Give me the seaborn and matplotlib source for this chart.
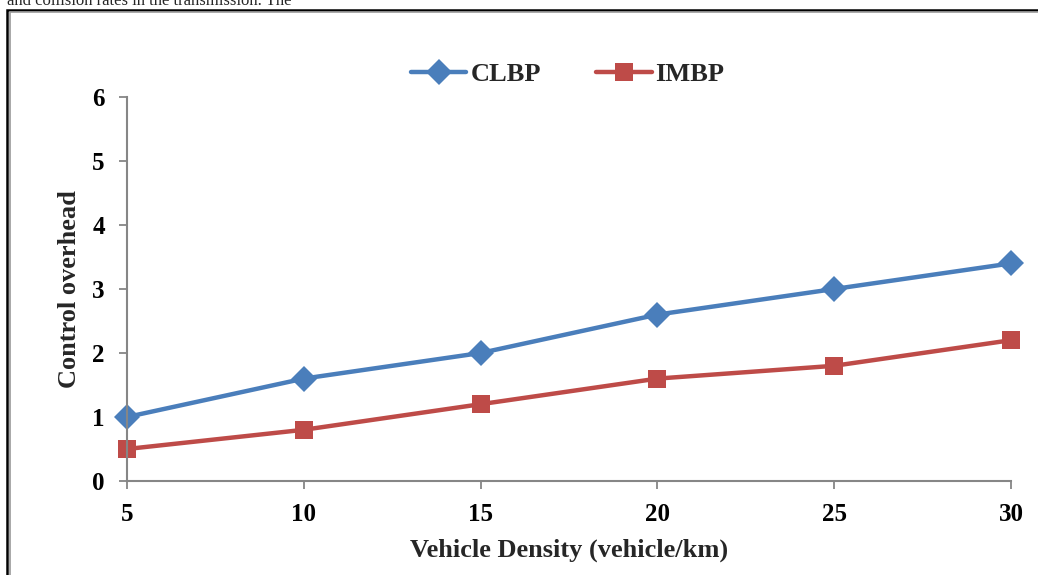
import matplotlib
matplotlib.use("Agg")
import matplotlib.pyplot as plt
import seaborn as sns
import pandas as pd
from matplotlib.patches import Rectangle

# Data
density = [5, 10, 15, 20, 25, 30]
clbp = [1.0, 1.6, 2.0, 2.6, 3.0, 3.4]
imbp = [0.5, 0.8, 1.2, 1.6, 1.8, 2.2]
series_names = ["CLBP", "IMBP"]
y_ticks = [0, 1, 2, 3, 4, 5, 6]

df = pd.DataFrame(
    {
        "density": density * 2,
        "value": clbp + imbp,
        "series": [series_names[0]] * len(density) + [series_names[1]] * len(density),
    }
)

sns.set_style("white")
plt.rcParams["font.family"] = ["Liberation Serif", "DejaVu Serif"]
plt.rcParams["font.weight"] = "bold"

fig = plt.figure(figsize=(10.38, 5.75), dpi=100)
ax = fig.add_axes([0.1224, 0.1635, 0.8516, 0.6678])

# outer frame (page box), partly cut by the picture edge
fig.patches.append(
    Rectangle((0.0068, -0.1), 1.2, 1.1 - 0.0174, transform=fig.transFigure,
              fill=False, edgecolor="black", linewidth=1.8)
)
fig.patches.append(
    Rectangle((0.0095, -0.1), 1.2, 1.1 - 0.0215, transform=fig.transFigure,
              fill=False, edgecolor="#9a9a9a", linewidth=1.2)
)
fig.text(0.0068, 1 - 5 / 575, "and collision rates in the transmission. The",
         fontsize=12, fontweight="normal", va="baseline", ha="left")

palette = {"CLBP": "#4A7EBB", "IMBP": "#BE4B48"}
sns.lineplot(
    data=df, x="density", y="value", hue="series", style="series",
    markers={"CLBP": "D", "IMBP": "s"}, dashes=False, palette=palette,
    linewidth=3.2, markersize=13, markeredgewidth=0, ax=ax,
)

ax.set_xlim(5, 30)
ax.set_ylim(0, 6)
ax.set_xticks(density)
ax.set_yticks(y_ticks)
ax.tick_params(axis="both", labelsize=18, labelcolor="black", length=6,
               width=1.3, direction="out", bottom=True, left=True)
ax.tick_params(axis="x", color="#868686", pad=10)
ax.tick_params(axis="y", color="#868686", pad=10)
for lab in ax.get_xticklabels() + ax.get_yticklabels():
    lab.set_fontweight("bold")
for side in ["top", "right"]:
    ax.spines[side].set_visible(False)
for side in ["left", "bottom"]:
    ax.spines[side].set_color("#868686")
    ax.spines[side].set_linewidth(1.5)
for line in ax.lines:
    line.set_clip_on(False)

ax.set_xlabel("Vehicle Density (vehicle/km)", fontsize=19, fontweight="bold", labelpad=9)
ax.set_ylabel("Control overhead", fontsize=19, fontweight="bold", labelpad=8)

handles, labels = ax.get_legend_handles_labels()
ax.legend(handles, labels, loc="center", bbox_to_anchor=(0.547, 1 - 74 / 575),
          bbox_transform=fig.transFigure, ncol=2, frameon=False,
          prop={"size": 19, "weight": "bold"}, handlelength=2.1,
          handletextpad=0.15, columnspacing=2.1)

fig.savefig("out.png", dpi=100)
